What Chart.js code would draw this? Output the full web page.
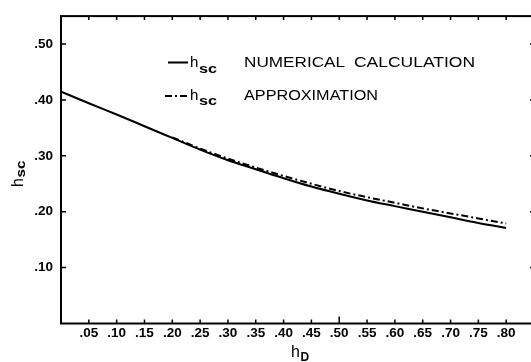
<!DOCTYPE html>
<html>
<head>
<meta charset="utf-8">
<script src="https://cdn.jsdelivr.net/npm/chart.js@4.4.1/dist/chart.umd.min.js"></script>
<style>
  html, body { margin: 0; padding: 0; background: #fff; overflow: hidden; }
  canvas { display: block; }
</style>
</head>
<body>
<canvas id="myChart" width="540" height="362"></canvas>
<script>
// values
const hD = [0.00, 0.05, 0.10, 0.15, 0.20, 0.25, 0.30, 0.35, 0.40, 0.45, 0.50, 0.55, 0.60, 0.65, 0.70, 0.75, 0.80];
const hscNumerical = [0.415, 0.394, 0.374, 0.353, 0.332, 0.311, 0.292, 0.276, 0.260, 0.245, 0.232, 0.220, 0.210, 0.200, 0.190, 0.180, 0.171];
const hDApprox = [0.20, 0.25, 0.30, 0.35, 0.40, 0.45, 0.50, 0.55, 0.60, 0.65, 0.70, 0.75, 0.80];
const hscApprox = [0.333, 0.313, 0.295, 0.279, 0.264, 0.250, 0.237, 0.226, 0.216, 0.206, 0.197, 0.188, 0.179];
const xTicks = [0.05, 0.10, 0.15, 0.20, 0.25, 0.30, 0.35, 0.40, 0.45, 0.50, 0.55, 0.60, 0.65, 0.70, 0.75, 0.80];
const yTicks = [0.10, 0.20, 0.30, 0.40, 0.50];

const FONT = '"Liberation Sans", Arial, Helvetica, sans-serif';
const fmt = (v) => v.toFixed(2).replace(/^0/, "");

// draws text squeezed/stretched to a given width
function drawFit(ctx, text, x, y, w) {
  const m = ctx.measureText(text).width;
  ctx.save();
  ctx.translate(x, y);
  ctx.scale(w / m, 1);
  ctx.fillText(text, 0, 0);
  ctx.restore();
}

const framePlugin = {
  id: "frame",
  afterDraw(chart) {
    const { ctx, chartArea: a, scales } = chart;
    ctx.save();
    ctx.strokeStyle = "#000";
    ctx.lineWidth = 2;
    ctx.strokeRect(a.left, a.top, a.right - a.left, a.bottom - a.top);

    // inward tick marks on all four sides
    ctx.lineWidth = 1.5;
    ctx.beginPath();
    xTicks.forEach((v) => {
      const px = scales.x.getPixelForValue(v);
      const len = Math.abs(v - 0.5) < 1e-6 ? 7 : 4;
      ctx.moveTo(px, a.bottom);
      ctx.lineTo(px, a.bottom - len);
      ctx.moveTo(px, a.top);
      ctx.lineTo(px, a.top + 4);
    });
    yTicks.forEach((v) => {
      const py = scales.y.getPixelForValue(v);
      ctx.moveTo(a.left, py);
      ctx.lineTo(a.left + 5, py);
      ctx.moveTo(a.right, py);
      ctx.lineTo(a.right - 4, py);
    });
    ctx.stroke();

    // legend
    ctx.fillStyle = "#000";
    ctx.textBaseline = "alphabetic";
    ctx.lineWidth = 2;
    ctx.beginPath();
    ctx.moveTo(168, 62.5);
    ctx.lineTo(188, 62.5);
    ctx.stroke();
    ctx.setLineDash([7, 3, 2, 3]);
    ctx.beginPath();
    ctx.moveTo(165, 96);
    ctx.lineTo(188, 96);
    ctx.stroke();
    ctx.setLineDash([]);

    ctx.font = "15px " + FONT;
    ctx.fillText("h", 190, 66.5);
    ctx.fillText("h", 190, 99.5);
    drawFit(ctx, "NUMERICAL", 244, 66.5, 101);
    drawFit(ctx, "CALCULATION", 354, 66.5, 121);
    drawFit(ctx, "APPROXIMATION", 244, 99.5, 134);
    ctx.font = "bold 12px " + FONT;
    drawFit(ctx, "sc", 199, 72.5, 18);
    drawFit(ctx, "sc", 199, 105, 18);

    // x axis title
    ctx.font = "16px " + FONT;
    ctx.fillText("h", 291, 357);
    ctx.font = "bold 12px " + FONT;
    ctx.fillText("D", 300.5, 361);

    // y axis title
    ctx.save();
    ctx.translate(23, 187);
    ctx.rotate(-Math.PI / 2);
    ctx.font = "16px " + FONT;
    ctx.fillText("h", 0, 0);
    ctx.font = "bold 12px " + FONT;
    drawFit(ctx, "sc", 9.5, 2, 17);
    ctx.restore();
    ctx.restore();
  },
};

const ctx = document.getElementById("myChart");

new Chart(ctx, {
  type: "line",
  data: {
    datasets: [
      {
        label: "hsc NUMERICAL CALCULATION",
        data: hD.map((x, i) => ({ x: x, y: hscNumerical[i] })),
        borderColor: "#000",
        borderWidth: 2,
        pointRadius: 0,
        cubicInterpolationMode: "monotone",
        order: 2,
      },
      {
        label: "hsc APPROXIMATION",
        data: hDApprox.map((x, i) => ({ x: x, y: hscApprox[i] })),
        borderColor: "#000",
        borderWidth: 2,
        borderDash: [7, 3, 2, 3],
        pointRadius: 0,
        cubicInterpolationMode: "monotone",
        order: 1,
      },
    ],
  },
  options: {
    responsive: false,
    animation: false,
    layout: { padding: { left: 0, top: 13, right: 6, bottom: 0 } },
    plugins: {
      legend: { display: false },
      tooltip: { enabled: false },
    },
    scales: {
      x: {
        type: "linear",
        min: 0,
        max: 0.85,
        afterBuildTicks: (s) => { s.ticks = xTicks.map((v) => ({ value: v })); },
        afterFit: (s) => { s.height = 38.5; },
        grid: { display: false, drawTicks: false },
        border: { display: false },
        ticks: {
          padding: 2,
          autoSkip: false,
          maxRotation: 0,
          color: "#000",
          font: { family: FONT, size: 13.5, weight: "bold" },
          callback: (v) => fmt(v),
        },
      },
      y: {
        min: 0,
        max: 0.55,
        afterBuildTicks: (s) => { s.ticks = yTicks.map((v) => ({ value: v })); },
        afterFit: (s) => { s.width = 61; },
        grid: { display: false, drawTicks: false },
        border: { display: false },
        ticks: {
          padding: 8,
          color: "#000",
          font: { family: FONT, size: 13.5, weight: "bold" },
          callback: (v) => fmt(v),
        },
      },
    },
  },
  plugins: [framePlugin],
});
</script>
</body>
</html>
